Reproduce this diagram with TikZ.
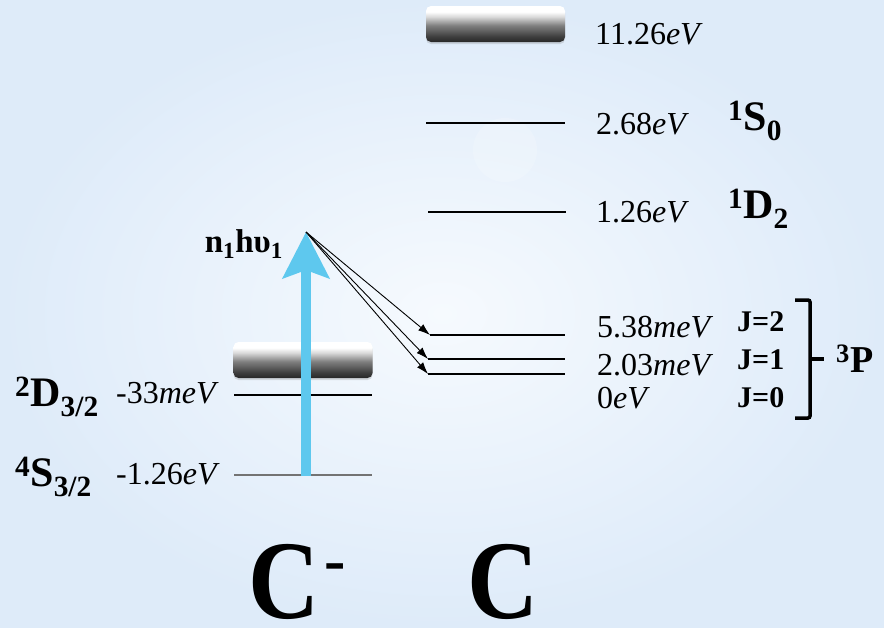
\documentclass[tikz,border=0pt]{standalone}
\usepackage{fontspec}
\setmainfont{Liberation Serif}
\usetikzlibrary{arrows.meta,shadows}

\definecolor{bgtop}{RGB}{222,235,249}
\definecolor{bgbot}{RGB}{246,250,254}
\definecolor{photon}{RGB}{94,200,238}
\definecolor{groundgray}{RGB}{115,115,115}

\pgfdeclareverticalshading{bandshade}{100bp}{color(0bp)=(black!85); color(25bp)=(black!85); color(33bp)=(black!75); color(48bp)=(black!50); color(60bp)=(black!15); color(67bp)=(white); color(100bp)=(white)}

\newcommand{\term}[3]{\textsuperscript{#1}#2\textsubscript{#3}}
\newcommand{\en}[2]{#1\textit{#2}}

\begin{document}
\begin{tikzpicture}[
    x=1pt, y=-1pt,
    level/.style={line width=1.2pt},
    band/.style={rounded corners=5pt, shading=bandshade, minimum width=139pt, minimum height=36pt, inner sep=0pt,
      drop shadow={shadow xshift=0pt, shadow yshift=-2pt, opacity=0.25}},
    elab/.style={anchor=base west, inner sep=0pt, font=\fontsize{32}{36}\selectfont},
    term/.style={anchor=base west, inner sep=0pt, font=\fontsize{42}{46}\selectfont\bfseries},
    jlab/.style={anchor=base west, inner sep=0pt, font=\fontsize{30}{34}\selectfont\bfseries},
    species/.style={anchor=base west, inner sep=0pt, font=\fontsize{112}{112}\selectfont\bfseries},
    thin/.style={-{Latex[length=12pt,width=8pt]}, line width=0.9pt},
    photonarr/.style={-{Stealth[length=46pt,width=46pt,inset=8pt]}, line width=10pt, draw=photon}
  ]
    \useasboundingbox (0,0) rectangle (884,627);
    \shade[inner color=bgbot, outer color=bgtop] (0,0) rectangle (884,627);
    \fill[white, opacity=0.18] (505,150) circle (32);

    % neutral carbon
    \node[band] (cont) at (495.5,24) {};
    \draw[level] (426,123) -- (565,123);
    \draw[level] (428,212) -- (566,212);
    \draw[level] (430,335) coordinate (j2) -- (565,335);
    \draw[level] (428,359) coordinate (j1) -- (565,359);
    \draw[level] (428,374) coordinate (j0) -- (565,374);

    \node[elab] (e1126) at (595,44) {\en{11.26}{eV}};
    \node[elab] (e268) at (596,134) {\en{2.68}{eV}};
    \node[elab] (e126) at (596,222) {\en{1.26}{eV}};
    \node[elab] (e538) at (597,337) {\en{5.38}{meV}};
    \node[elab] (e203) at (597,375) {\en{2.03}{meV}};
    \node[elab] (e0) at (597,408) {\en{0}{eV}};

    \node[term] (s0) at (728,130) {\term{1}{S}{0}};
    \node[term] (d2) at (728,218) {\term{1}{D}{2}};
    \node[jlab] (jtwo) at (737,331) {J=2};
    \node[jlab] (jone) at (737,369) {J=1};
    \node[jlab] (jzero) at (737,407) {J=0};
    \node[term, font=\fontsize{38}{42}\selectfont\bfseries] (p3) at (836,372) {\term{3}{P}{}};

    \draw[line width=3.5pt, rounded corners=2pt] (795,300) -- (810,300) -- (810,418) -- (795,418);
    \draw[line width=3.5pt] (810,359) coordinate (brk) -- ([xshift=-12pt]p3.west |- brk);

    % anion
    \node[band] (anband) at (303,360) {};
    \draw[level] (234,395) -- (372,395);
    \draw[level, draw=groundgray] (234,475) -- (372,475);
    \node[elab] (em33) at (116,403) {\en{-33}{meV}};
    \node[elab] (em126) at (116,484) {\en{-1.26}{eV}};
    \node[term] (d32) at (15,406) {\term{2}{D}{3/2}};
    \node[term] (s32) at (15,486) {\term{4}{S}{3/2}};

    % detachment
    \coordinate (top) at (306,232);
    \coordinate (ground) at (306,476);
    \draw[photonarr] (ground) -- (top);
    \node[anchor=base east, inner sep=0pt, font=\fontsize{33}{36}\selectfont\bfseries] (hnu) at (283,252) {n\textsubscript{1}hυ\textsubscript{1}};
    \draw[thin] (top) -- (j2);
    \draw[thin] (top) -- (j1);
    \draw[thin] (top) -- (j0);

    \node[species] (anion) at (248,618) {\scalebox{0.88}[1]{C}\hspace{5pt}\raisebox{37pt}{\fontsize{64}{64}\selectfont -}};
    \node[species] (neutral) at (467,618) {\scalebox{0.88}[1]{C}};
\end{tikzpicture}
\end{document}
